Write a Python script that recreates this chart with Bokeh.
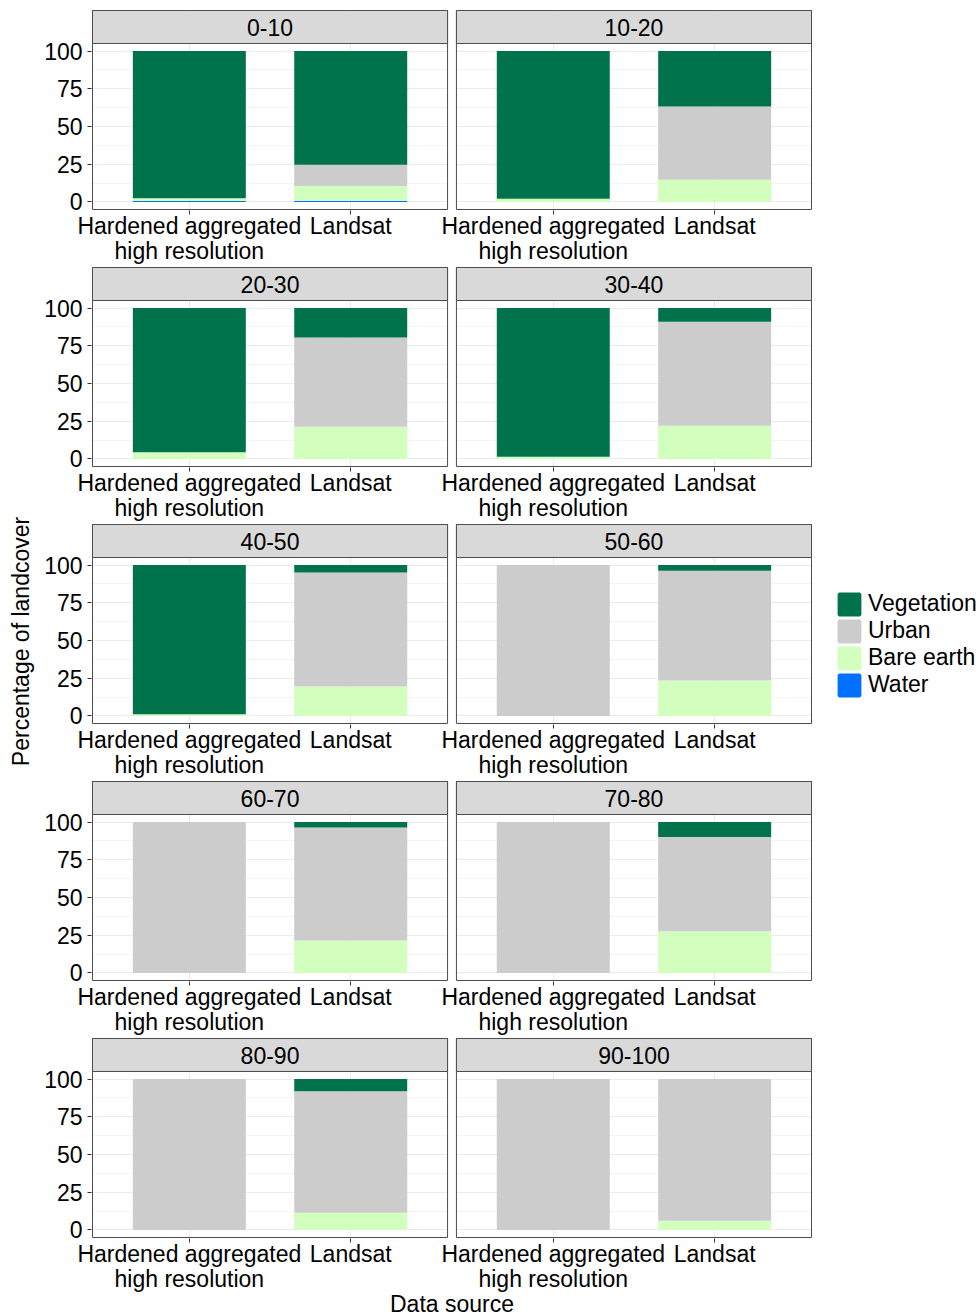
import math

from bokeh.core.properties import value
from bokeh.embed import file_html
from bokeh.layouts import column, row
from bokeh.models import ColumnDataSource, FixedTicker, Label, Legend, LegendItem, Range1d
from bokeh.plotting import figure
from bokeh.resources import INLINE

# ---------------------------------------------------------------- data
bins = ["0-10", "10-20", "20-30", "30-40", "40-50",
        "50-60", "60-70", "70-80", "80-90", "90-100"]
sources = ["Hardened aggregated\nhigh resolution", "Landsat"]

# percentage of landcover per bin, hardened aggregated high resolution
vegetation_hr = [97.5, 97.9, 95.5, 98.5, 98.8, 0.0, 0.0, 0.0, 0.0, 0.0]
urban_hr = [0.0, 0.0, 0.0, 0.0, 0.0, 100.0, 100.0, 100.0, 100.0, 100.0]
bare_hr = [1.8, 2.1, 4.5, 1.5, 1.2, 0.0, 0.0, 0.0, 0.0, 0.0]
water_hr = [0.7, 0.0, 0.0, 0.0, 0.0, 0.0, 0.0, 0.0, 0.0, 0.0]

# percentage of landcover per bin, Landsat
vegetation_ls = [75.4, 36.8, 19.5, 9.0, 5.0, 3.8, 3.6, 9.9, 8.1, 0.0]
urban_ls = [14.1, 48.5, 59.2, 69.0, 75.5, 72.7, 74.9, 62.4, 80.5, 93.9]
bare_ls = [9.9, 14.7, 21.3, 22.0, 19.5, 23.5, 21.5, 27.7, 11.4, 6.1]
water_ls = [0.6, 0.0, 0.0, 0.0, 0.0, 0.0, 0.0, 0.0, 0.0, 0.0]

legend_labels = ["Vegetation", "Urban", "Bare earth", "Water"]
class_colors = ["#00734C", "#CCCCCC", "#D3FFBE", "#0070FF"]

y_ticks = [0, 25, 50, 75, 100]
y_minor = [12.5, 37.5, 62.5, 87.5]

# ---------------------------------------------------------------- styling / geometry
FONT = "Liberation Sans"
FS = "23px"
TEXT_COLOR = "#000000"
BORDER = "#4D4D4D"
STRIP_FILL = "#D9D9D9"
GRID_MAJOR = "#EBEBEB"
GRID_MINOR = "#F4F4F4"

W, H = 980, 1315
YLAB_W = 40
AXIS_W = 51
PANELS_PX = 719          # both panels plus the gap between them
RIGHT_PAD = 10
STRIP_PX = 33
PANEL_PX = 166
FRAME_W = PANELS_PX + 2
FRAME_H = STRIP_PX + PANEL_PX + 2
TOP_PAD = 9
ROW_BOTTOM = 56
LAST_BOTTOM = H - (TOP_PAD + FRAME_H + ROW_BOTTOM) - 3 * (FRAME_H + ROW_BOTTOM) - FRAME_H

EXPAND = 0.6             # discrete axis expansion on each side
BAR_W = 0.7
SPAN = len(sources) - 1 + 2 * EXPAND
GAP = 0.055
offsets = [0.0, SPAN + GAP]
X0 = 1 - EXPAND
X1 = X0 + 2 * SPAN + GAP
ppu_x = PANELS_PX / (X1 - X0)
Y0, Y1 = -5.0, 105.0
ppu_y = PANEL_PX / (Y1 - Y0)
YSTRIP = Y1 + STRIP_PX / ppu_y


def stack_row(k):
    """Columns for the two facets shown in row k."""
    xs, water, bare, urban, veg = [], [], [], [], []
    for c in range(2):
        b = 2 * k + c
        for j, vals in enumerate([(water_hr, bare_hr, urban_hr, vegetation_hr),
                                  (water_ls, bare_ls, urban_ls, vegetation_ls)]):
            xs.append(round(1 + j + offsets[c], 4))
            water.append(vals[0][b])
            bare.append(vals[1][b])
            urban.append(vals[2][b])
            veg.append(vals[3][b])
    return dict(x=xs, water=water, bare=bare, urban=urban, veg=veg)


rows = []
for k in range(5):
    data = stack_row(k)
    last = k == 4
    p = figure(
        frame_width=FRAME_W, frame_height=FRAME_H,
        x_range=Range1d(X0 - 1 / ppu_x, X1 + 1 / ppu_x),
        y_range=Range1d(Y0 - 1 / ppu_y, YSTRIP + 1 / ppu_y),
        min_border_left=AXIS_W, min_border_right=RIGHT_PAD,
        min_border_top=TOP_PAD if k == 0 else 0,
        min_border_bottom=LAST_BOTTOM if last else ROW_BOTTOM,
        output_backend="svg", toolbar_location=None,
        outline_line_color=None, background_fill_color="white",
        border_fill_color="white",
    )

    # grid
    p.xgrid.ticker = FixedTicker(ticks=data["x"])
    p.xgrid.grid_line_color = GRID_MAJOR
    p.ygrid.ticker = FixedTicker(ticks=y_ticks, minor_ticks=y_minor)
    p.ygrid.grid_line_color = GRID_MAJOR
    p.ygrid.minor_grid_line_color = GRID_MINOR

    # white gap between the two facets
    p.quad(left=[X0 + SPAN], right=[X0 + SPAN + GAP],
           bottom=[p.y_range.start], top=[p.y_range.end],
           fill_color="white", line_color=None)

    # stacked bars
    src = ColumnDataSource(data)
    p.vbar_stack(["water", "bare", "urban", "veg"], x="x", width=BAR_W,
                 source=src, fill_color=class_colors[::-1], line_color=None)

    # panel borders and facet strips
    lefts = [X0 + o for o in offsets]
    rights = [X0 + SPAN + o for o in offsets]
    p.quad(left=lefts, right=rights, bottom=[Y0, Y0], top=[YSTRIP, YSTRIP],
           fill_color=None, line_color=BORDER, line_width=1)
    p.quad(left=lefts, right=rights, bottom=[Y1, Y1], top=[YSTRIP, YSTRIP],
           fill_color=STRIP_FILL, line_color=BORDER, line_width=1)
    p.text(x=[(l + r) / 2 for l, r in zip(lefts, rights)],
           y=[(Y1 + YSTRIP) / 2] * 2,
           text=[bins[2 * k], bins[2 * k + 1]],
           text_font=value(FONT), text_font_size=FS, text_color=TEXT_COLOR,
           text_align="center", text_baseline="middle")

    # axes
    xa = p.xaxis[0]
    xa.ticker = FixedTicker(ticks=data["x"])
    xa.major_label_overrides = {x: sources[i % 2] for i, x in enumerate(data["x"])}
    xa.axis_line_color = None
    xa.major_tick_in = 0
    xa.major_tick_out = 4
    xa.major_tick_line_color = "#333333"
    xa.minor_tick_line_color = None
    xa.major_label_standoff = -2
    xa.major_label_text_font = FONT
    xa.major_label_text_font_size = FS
    xa.major_label_text_color = TEXT_COLOR
    xa.major_label_text_line_height = 0.98
    if last:
        xa.axis_label = "Data source"
        xa.axis_label_standoff = -4
        xa.axis_label_text_font = FONT
        xa.axis_label_text_font_size = FS
        xa.axis_label_text_font_style = "normal"
        xa.axis_label_text_color = TEXT_COLOR

    ya = p.yaxis[0]
    ya.ticker = FixedTicker(ticks=y_ticks)
    ya.axis_line_color = None
    ya.major_tick_in = 0
    ya.major_tick_out = 4
    ya.major_tick_line_color = "#333333"
    ya.minor_tick_line_color = None
    ya.major_label_standoff = 5
    ya.major_label_text_font = FONT
    ya.major_label_text_font_size = FS
    ya.major_label_text_color = TEXT_COLOR

    rows.append(p)


def blank(width, height):
    f = figure(width=width, height=height, x_range=Range1d(0, 1), y_range=Range1d(0, 1),
               x_axis_location=None, y_axis_location=None, min_border=0,
               outline_line_color=None, output_backend="svg", toolbar_location=None,
               background_fill_color="white", border_fill_color="white")
    f.grid.visible = False
    return f


# y axis title
ylab = blank(YLAB_W, H)
ylab.add_layout(Label(x=20, y=H - 641, x_units="screen", y_units="screen",
                      text="Percentage of landcover", angle=math.pi / 2,
                      text_align="center", text_baseline="middle",
                      text_font=FONT, text_font_size=FS, text_color=TEXT_COLOR))

# legend: key renderers carry NaN positions, so only their swatches are drawn
row_w = AXIS_W + FRAME_W + RIGHT_PAD
leg_w = W - YLAB_W - row_w
legfig = blank(leg_w, H)
items = []
for lab, col in zip(legend_labels, class_colors):
    r = legfig.vbar(x=[float("nan")], top=[float("nan")], bottom=[float("nan")],
                    width=0.5, fill_color=col, line_color=col, line_width=3)
    items.append(LegendItem(label=lab, renderers=[r]))
legend = Legend(items=items, location=(14, H - 698), padding=0, margin=0, spacing=0,
                glyph_width=26, glyph_height=26, label_height=24, label_standoff=6,
                label_text_font=FONT, label_text_font_size=FS, label_text_color=TEXT_COLOR,
                label_text_line_height=0.95,
                border_line_color=None, background_fill_alpha=0)
legfig.add_layout(legend, "center")

layout = row(ylab, column(*rows), legfig)

with open("out.html", "w") as fh:
    fh.write(file_html(layout, INLINE))
